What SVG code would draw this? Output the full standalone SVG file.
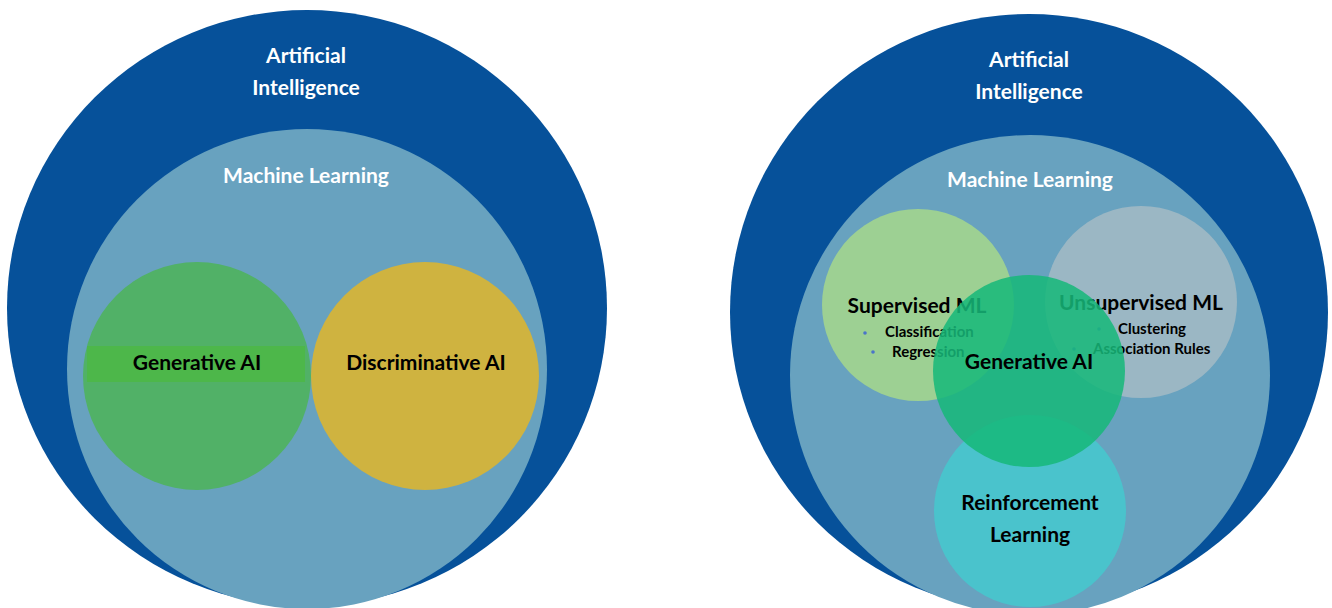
<svg xmlns="http://www.w3.org/2000/svg" width="1332" height="608" viewBox="0 0 1332 608">
<style>
.ai{fill:#06519a}
.ml{fill:#68a2bf}
.w{fill:#ffffff;font-family:Lato,"Liberation Sans",sans-serif;font-weight:700;font-size:21px;text-anchor:middle}
.b{fill:#000000;font-family:Lato,"Liberation Sans",sans-serif;font-weight:700;font-size:21px;text-anchor:middle}
.s{fill:#000000;font-family:Lato,"Liberation Sans",sans-serif;font-weight:700;font-size:15px;text-anchor:start}
.dot{fill:#4a74c9}
</style>
<rect width="1332" height="608" fill="#ffffff"/>

<!-- Left diagram -->
<g id="left-ai">
  <ellipse class="ai" cx="307" cy="308" rx="300" ry="298"/>
  <text class="w" x="306" y="63">Artificial</text>
  <text class="w" x="306" y="95">Intelligence</text>
</g>
<g id="left-ml">
  <circle class="ml" cx="307" cy="369" r="240"/>
  <text class="w" x="306" y="183">Machine Learning</text>
</g>
<g id="left-genai">
  <circle cx="197" cy="376" r="114" fill="#51b167"/>
  <rect x="87" y="346" width="218" height="36" fill="#4db74a"/>
  <text class="b" x="197" y="370">Generative AI</text>
</g>
<g id="left-discriminative">
  <circle cx="425" cy="376" r="114" fill="#cfb340"/>
  <text class="b" x="426" y="370">Discriminative AI</text>
</g>

<!-- Right diagram -->
<g id="right-ai">
  <ellipse class="ai" cx="1029" cy="312" rx="299" ry="298"/>
  <text class="w" x="1029" y="67">Artificial</text>
  <text class="w" x="1029" y="99">Intelligence</text>
</g>
<g id="right-ml">
  <circle class="ml" cx="1030" cy="375" r="240"/>
  <text class="w" x="1030" y="187">Machine Learning</text>
</g>
<g id="supervised">
  <circle cx="918" cy="305" r="96" fill="#9dd093"/>
  <text class="b" x="917" y="313">Supervised ML</text>
  <circle class="dot" cx="865" cy="333" r="1.8"/>
  <text class="s" x="885" y="337">Classification</text>
  <circle class="dot" cx="873" cy="352" r="1.8"/>
  <text class="s" x="892" y="357">Regression</text>
</g>
<g id="unsupervised">
  <circle cx="1141" cy="302" r="96" fill="#9bb7c4"/>
  <text class="b" x="1141" y="310">Unsupervised ML</text>
  <circle class="dot" cx="1099" cy="329" r="1.8"/>
  <text class="s" x="1118" y="334">Clustering</text>
  <circle class="dot" cx="1074" cy="349" r="1.8"/>
  <text class="s" x="1093" y="354">Association Rules</text>
</g>
<g id="reinforcement">
  <circle cx="1030" cy="511" r="96" fill="#4ac3cc"/>
  <text class="b" x="1030" y="510">Reinforcement</text>
  <text class="b" x="1030" y="542">Learning</text>
</g>
<g id="right-genai">
  <circle cx="1029" cy="371" r="96" fill="#16b879" fill-opacity="0.86"/>
  <text class="b" x="1029" y="369">Generative AI</text>
</g>
</svg>
